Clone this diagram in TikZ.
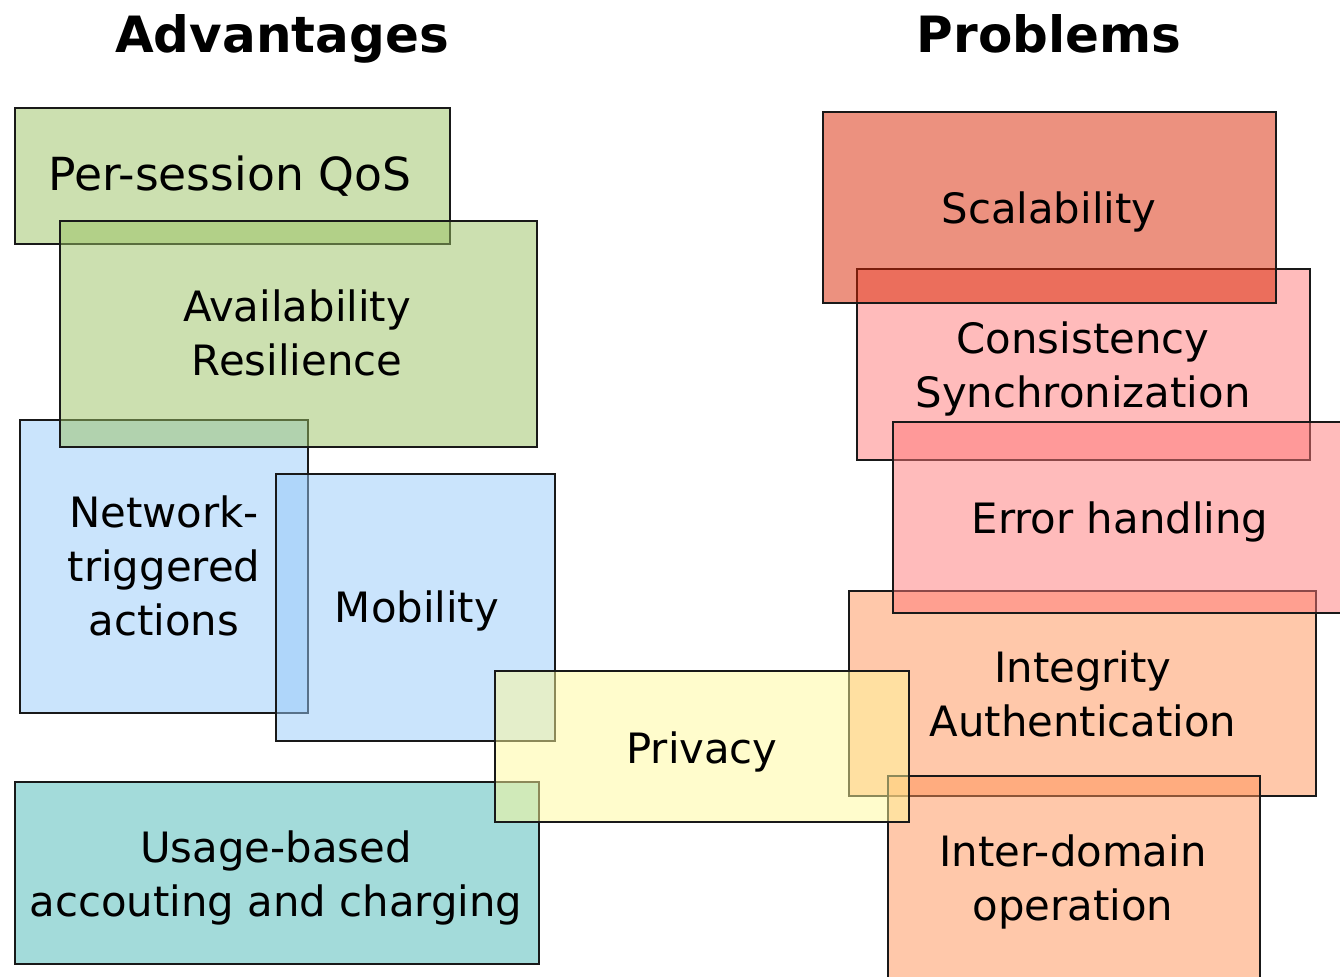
\documentclass[tikz,border=0pt]{standalone}
\usepackage{fontspec}
\setmainfont{DejaVu Sans}
\usepackage{xcolor}

\definecolor{advgreen}{RGB}{153,193,97}
\definecolor{advblue}{RGB}{149,201,249}
\definecolor{advteal}{RGB}{71,183,181}
\definecolor{privyellow}{RGB}{255,249,153}
\definecolor{probred}{RGB}{217,35,0}
\definecolor{probpink}{RGB}{255,119,119}
\definecolor{probpeach}{RGB}{255,145,85}

\begin{document}
\begin{tikzpicture}[x=0.5pt,y=-0.5pt,
	box/.style={draw=black!90, line width=1pt, fill opacity=0.5},
	lbl/.style={align=center, inner sep=0pt, font=\fontsize{20.9}{27}\selectfont},
	heading/.style={anchor=base, inner sep=0pt, font=\fontsize{25}{30}\selectfont\bfseries}]

	\useasboundingbox (0,0) rectangle (1340,976);

	\node [heading] (adv) at (282,52) {Advantages};
	\node [heading] (prob) at (1049,52) {Problems};

	% advantages
	\draw [box, fill=advblue] (20,420) rectangle (308,713);
	\node [lbl] (net) at (164,566) {Network-\\triggered\\actions};

	\draw [box, fill=advgreen] (15,108) rectangle (450,244);
	\node [lbl, font=\fontsize{22.8}{27}\selectfont] (qos) at (230,176) {Per-session QoS};

	\draw [box, fill=advgreen] (60,221) rectangle (537,447);
	\node [lbl] (avail) at (297,333) {Availability\\Resilience};

	\draw [box, fill=advblue] (276,474) rectangle (555,741);
	\node [lbl] (mob) at (417,611) {Mobility};

	\draw [box, fill=advteal] (15,782) rectangle (539,964);
	\node [lbl] (usage) at (276,878) {Usage-based\\accouting and charging};

	% problems
	\draw [box, fill=probpink] (857,269) rectangle (1310,460);
	\node [lbl] (cons) at (1083,369) {Consistency\\Synchronization};

	\draw [box, fill=probred] (823,112) rectangle (1276,303);
	\node [lbl] (scal) at (1049,212) {Scalability};

	\draw [box, fill=probpeach] (849,591) rectangle (1316,796);
	\node [lbl] (integ) at (1083,694) {Integrity\\Authentication};

	\draw [box, fill=probpeach] (888,776) rectangle (1260,979);
	\node [lbl] (inter) at (1073,882) {Inter-domain\\operation};

	\draw [box, fill=probpink] (893,422) rectangle (1347,613);
	\node [lbl] (err) at (1120,522) {Error handling};

	% shared
	\draw [box, fill=privyellow] (495,671) rectangle (909,822);
	\node [lbl] (priv) at (702,752) {Privacy};

\end{tikzpicture}
\end{document}
